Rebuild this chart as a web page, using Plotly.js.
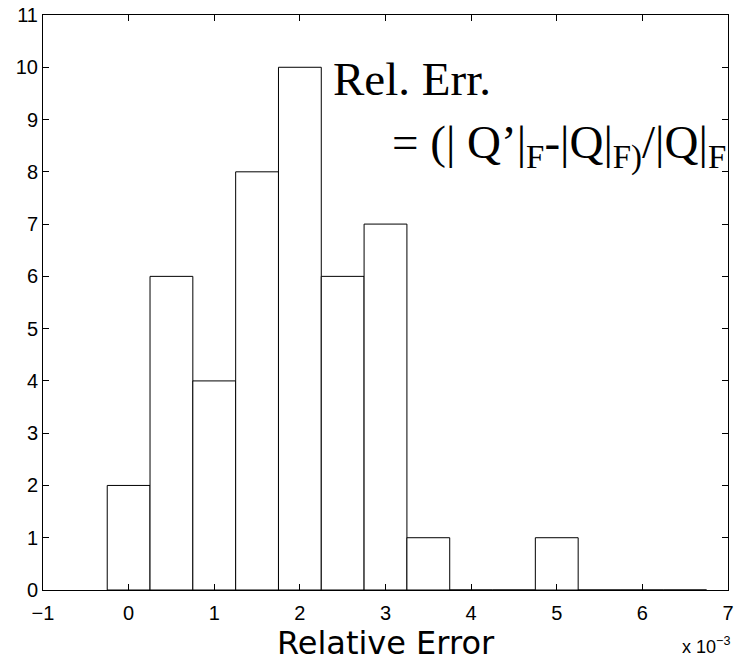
<!DOCTYPE html>
<html>
<head>
<meta charset="utf-8">
<script src="https://cdn.plot.ly/plotly-3.0.1.min.js"></script>
<style>html,body{margin:0;padding:0;background:#fff;}#chart{width:736px;height:662px;}</style>
</head>
<body>
<div id="chart"></div>
<script>
// Histogram bin centers (units of 1e-3) and counts
var binCenters = [0, 0.5, 1, 1.5, 2, 2.5, 3, 3.5, 4, 4.5, 5, 5.5, 6, 6.5];
var counts     = [2, 6, 4, 8, 10, 6, 7, 1, 0, 0, 1, 0, 0, 0];
var xTicks = [-1, 0, 1, 2, 3, 4, 5, 6, 7];
var yTicks = [0, 1, 2, 3, 4, 5, 6, 7, 8, 9, 10, 11];

var trace = {
  type: 'bar',
  x: binCenters,
  y: counts,
  width: 0.5,
  marker: {color: '#ffffff', line: {color: '#000000', width: 1}},
  hoverinfo: 'x+y'
};

var axisCommon = {
  showline: true, linecolor: '#000', linewidth: 1,
  mirror: 'ticks', ticks: 'inside', ticklen: 6, tickcolor: '#000', tickwidth: 1,
  showgrid: false, zeroline: false,
  tickfont: {family: 'Liberation Sans, Arial, sans-serif', size: 20, color: '#000'}
};

var layout = {
  width: 736, height: 662,
  margin: {l: 43, r: 8, t: 15, b: 72},
  paper_bgcolor: '#fff', plot_bgcolor: '#fff',
  showlegend: false,
  bargap: 0,
  xaxis: Object.assign({}, axisCommon, {
    range: [-1, 7], tickmode: 'array', tickvals: xTicks, ticklabelstandoff: 5,
    title: {text: 'Relative Error', font: {family: 'DejaVu Sans, Arial, sans-serif', size: 32, color: '#000'}, standoff: 1}
  }),
  yaxis: Object.assign({}, axisCommon, {
    range: [0, 11], tickmode: 'array', tickvals: yTicks
  }),
  annotations: [
    {xref: 'paper', yref: 'paper', x: 0.420, y: 0.889, xanchor: 'left', yanchor: 'middle', showarrow: false,
     text: 'Rel. Err.', font: {family: 'Liberation Serif, Times New Roman, serif', size: 47, color: '#000'}},
    {xref: 'paper', yref: 'paper', x: 0.506, y: 0.772, xanchor: 'left', yanchor: 'middle', showarrow: false,
     text: '= (| Q’|<sub>F</sub>-|Q|<sub>F)</sub>/|Q|<sub>F</sub>', font: {family: 'Liberation Serif, Times New Roman, serif', size: 47, color: '#000'}},
    {xref: 'paper', yref: 'paper', x: 0.968, y: -0.096, xanchor: 'center', yanchor: 'middle', showarrow: false,
     text: 'x 10<sup>−3</sup>', font: {family: 'Liberation Sans, Arial, sans-serif', size: 18, color: '#000'}}
  ]
};

Plotly.newPlot('chart', [trace], layout, {displayModeBar: false, staticPlot: true});
</script>
</body>
</html>
